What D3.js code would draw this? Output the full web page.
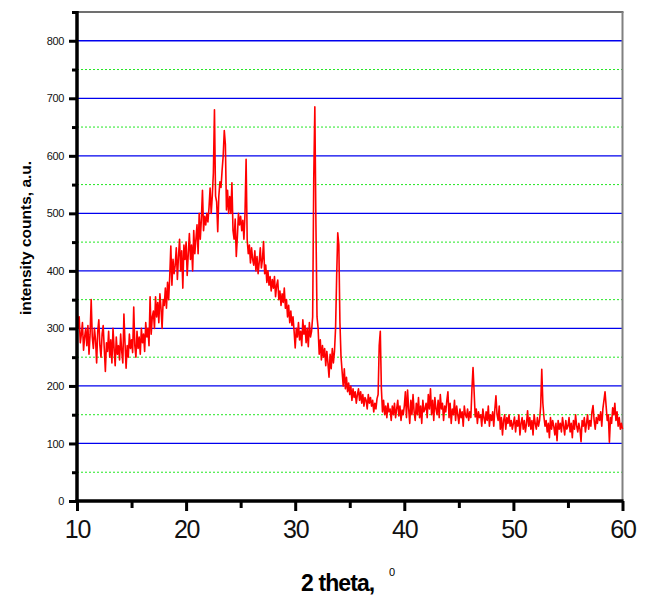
<!DOCTYPE html>
<html>
<head>
<meta charset="utf-8">
<script src="https://cdn.jsdelivr.net/npm/d3@7"></script>
<style>
  html, body { margin: 0; padding: 0; background: #fff; }
  svg { display: block; }
</style>
</head>
<body>
<svg id="chart" width="646" height="595"></svg>
<script>
// ---- data ----
const twoThetaStart = 10;      // degrees
const twoThetaStep = 0.1;      // degrees between samples
const intensity = [
  335, 300, 320, 275, 290, 310, 262, 285, 300, 270,
  305, 255, 290, 350, 285, 265, 300, 280, 240, 295,
  315, 270, 250, 290, 305, 265, 225, 275, 260, 295,
  250, 280, 240, 300, 265, 235, 285, 255, 270, 245,
  290, 260, 240, 325, 275, 231, 270, 250, 290, 265,
  280, 258, 337, 270, 250, 295, 265, 285, 255, 300,
  275, 290, 260, 310, 285, 300, 270, 355, 290, 320,
  330, 300, 355, 320, 345, 310, 360, 335, 300, 350,
  340, 370, 335, 380, 350, 390, 443, 375, 420, 395,
  410, 440, 385, 425, 455, 400, 435, 370, 445, 420,
  450, 392, 430, 465, 420, 445, 400, 470, 430, 455,
  480, 430, 500, 455, 490, 540, 470, 495, 480, 500,
  485, 510, 544, 500, 530, 570, 680, 530, 520, 468,
  530, 555, 545, 575, 600, 644, 620, 506, 540, 500,
  529, 500, 553, 470, 455, 490, 425, 460, 500, 480,
  495, 470, 488, 455, 500, 594, 454, 430, 445, 414,
  440, 420, 410, 435, 400, 425, 395, 415, 440, 405,
  420, 451, 395, 410, 380, 400, 375, 390, 365, 385,
  370, 390, 355, 375, 384, 350, 365, 340, 360, 345,
  370, 335, 350, 320, 340, 310, 330, 305, 320, 295,
  266, 300, 285, 310, 280, 295, 270, 315, 290, 305,
  275, 300, 268, 310, 285, 295, 320, 560, 685, 480,
  320, 300, 255, 280, 245, 270, 250, 265, 235, 260,
  240, 215, 255, 230, 265, 240, 260, 300, 390, 466,
  445, 310, 251, 225, 200, 230, 195, 215, 190, 205,
  185, 200, 175, 195, 180, 190, 170, 185, 195, 175,
  190, 170, 185, 165, 180, 175, 160, 185, 170, 180,
  165, 175, 155, 170, 160, 178, 185, 270, 295, 195,
  155, 175, 150, 165, 145, 170, 155, 160, 140, 165,
  150, 170, 145, 160, 175, 148, 165, 140, 158, 150,
  165, 190, 145, 193, 160, 135, 175, 150, 185, 155,
  140, 170, 150, 180, 145, 165, 135, 175, 155, 160,
  170, 145, 185, 160, 195, 150, 175, 140, 180, 160,
  150, 175, 145, 185, 160, 170, 140, 165, 155, 175,
  190, 145, 170, 135, 160, 150, 175, 140, 165, 150,
  135, 160, 145, 155, 130, 165, 150, 145, 160, 140,
  155, 145, 195, 232, 190, 146, 160, 135, 155, 145,
  150, 130, 160, 145, 135, 155, 140, 165, 130, 150,
  140, 155, 130, 160, 183, 150, 140, 165, 125, 145,
  115, 140, 150, 125, 145, 135, 150, 130, 140, 125,
  135, 146, 120, 140, 130, 150, 115, 135, 145, 125,
  140, 120, 135, 157, 130, 145, 125, 140, 115, 150,
  135, 125, 145, 130, 140, 165, 229, 170, 146, 130,
  140, 120, 135, 110, 145, 125, 140, 130, 115, 135,
  105, 140, 125, 135, 120, 145, 130, 115, 140, 125,
  130, 145, 120, 135, 110, 140, 125, 150, 130, 120,
  135, 125, 103, 140, 130, 145, 120, 135, 150, 125,
  140, 130, 155, 166, 140, 125, 145, 135, 150, 140,
  155, 130, 160, 175, 190, 165, 140, 150, 102, 145,
  135, 162, 150, 170, 140, 155, 130, 145, 125, 135,
  125
];
const xMajorTicks = [10, 20, 30, 40, 50, 60];
const xMinorTicks = [15, 25, 35, 45, 55];
const yMajorTicks = [0, 100, 200, 300, 400, 500, 600, 700, 800];
const yMinorTicks = [50, 150, 250, 350, 450, 550, 650, 750, 850];
const xDomain = [10, 60];
const yDomain = [0, 850];
const xTitle = "2 theta,";
const xTitleSup = "0";
const yTitle = "intensity counts, a.u.";

const points = intensity.map((v, i) => ({ x: +(twoThetaStart + i * twoThetaStep).toFixed(2), y: v }));

// ---- layout ----
const L = 77, R = 622.5, T = 12, B = 501;
const svg = d3.select("#chart");
const x = d3.scaleLinear().domain(xDomain).range([L, R]);
const y = d3.scaleLinear().domain(yDomain).range([B, T]);

// grid lines
svg.append("g").selectAll("line").data(yMinorTicks.filter(d => d < 850)).join("line")
  .attr("x1", L).attr("x2", R).attr("y1", d => y(d)).attr("y2", d => y(d))
  .attr("stroke", "#22e822").attr("stroke-width", 1).attr("stroke-dasharray", "2,2");
svg.append("g").selectAll("line").data(yMajorTicks.filter(d => d > 0)).join("line")
  .attr("x1", L).attr("x2", R).attr("y1", d => y(d)).attr("y2", d => y(d))
  .attr("stroke", "#0000ee").attr("stroke-width", 1.3);

// frame top & right
svg.append("line").attr("x1", L).attr("x2", R + 1).attr("y1", T).attr("y2", T)
  .attr("stroke", "#707070").attr("stroke-width", 2);
svg.append("line").attr("x1", R).attr("x2", R).attr("y1", T).attr("y2", B)
  .attr("stroke", "#808080").attr("stroke-width", 2);

// data line
svg.append("path").datum(points)
  .attr("fill", "none").attr("stroke", "#ff0000").attr("stroke-width", 1.6)
  .attr("stroke-linejoin", "round")
  .attr("d", d3.line().x(d => x(d.x)).y(d => y(d.y)));

// y axis
const yAxis = svg.append("g").attr("transform", `translate(${L},0)`)
  .call(d3.axisLeft(y).tickValues(yMajorTicks).tickSize(8).tickPadding(5).tickFormat(d3.format("d")));
yAxis.select(".domain").remove();
yAxis.selectAll(".tick line").attr("stroke", "#000").attr("stroke-width", 3);
yAxis.selectAll(".tick text").attr("font-family", "Liberation Sans, Arial, sans-serif")
  .attr("font-size", 11).attr("fill", "#111").attr("letter-spacing", "-0.4");
svg.append("g").attr("transform", `translate(${L},0)`)
  .call(d3.axisLeft(y).tickValues(yMinorTicks).tickSize(5).tickFormat(""))
  .call(g => g.select(".domain").remove())
  .selectAll(".tick line").attr("stroke", "#000").attr("stroke-width", 3);

// x axis
const xAxis = svg.append("g").attr("transform", `translate(0,${B})`)
  .call(d3.axisBottom(x).tickValues(xMajorTicks).tickSize(10).tickPadding(9).tickFormat(d3.format("d")));
xAxis.select(".domain").remove();
xAxis.selectAll(".tick line").attr("stroke", "#000").attr("stroke-width", 3);
xAxis.selectAll(".tick text").attr("font-family", "Liberation Sans, Arial, sans-serif")
  .attr("font-size", 25).attr("fill", "#111").attr("letter-spacing", "-1.2");
svg.append("g").attr("transform", `translate(0,${B})`)
  .call(d3.axisBottom(x).tickValues(xMinorTicks).tickSize(7).tickFormat(""))
  .call(g => g.select(".domain").remove())
  .selectAll(".tick line").attr("stroke", "#000").attr("stroke-width", 3);

// axis lines
svg.append("line").attr("x1", L).attr("x2", L).attr("y1", T - 1).attr("y2", B + 1.5)
  .attr("stroke", "#000").attr("stroke-width", 3.5);
svg.append("line").attr("x1", L - 1.5).attr("x2", R + 1).attr("y1", B).attr("y2", B)
  .attr("stroke", "#000").attr("stroke-width", 3.5);

// titles
svg.append("text").attr("x", 301).attr("y", 591)
  .attr("font-family", "Liberation Sans, Arial, sans-serif").attr("font-weight", "bold")
  .attr("font-size", 23).attr("letter-spacing", "-0.9").attr("fill", "#000").text(xTitle);
svg.append("text").attr("x", 389).attr("y", 576).attr("font-family", "Liberation Sans, Arial, sans-serif")
  .attr("font-size", 11).attr("fill", "#000").text(xTitleSup);

svg.append("text").attr("transform", "translate(31,238) rotate(-90)")
  .attr("text-anchor", "middle")
  .attr("font-family", "Liberation Sans, Arial, sans-serif").attr("font-weight", "bold")
  .attr("font-size", 15.5).attr("fill", "#000").text(yTitle);
</script>
</body>
</html>
